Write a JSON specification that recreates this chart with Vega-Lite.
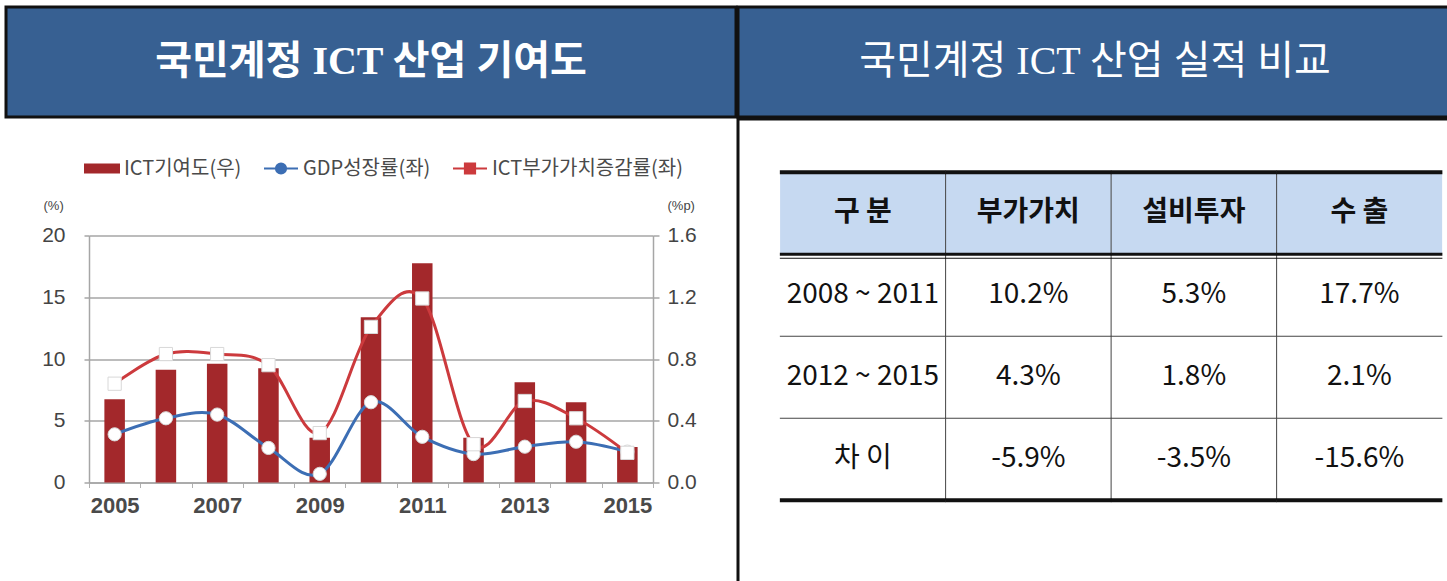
{
  "$schema": "https://vega.github.io/schema/vega-lite/v6.json",
  "background": "white",
  "padding": {"left": 4, "top": 5, "right": 0, "bottom": 0},
  "config": {"view": {"stroke": null}, "font": "Noto Sans CJK KR"},
  "spacing": -3,
  "resolve": {"scale": {"color": "independent", "shape": "independent"}, "legend": {"color": "independent", "shape": "independent"}},
  "hconcat": [
    {
      "resolve": {"scale": {"color": "independent", "shape": "independent"}, "legend": {"color": "independent", "shape": "independent"}},
      "bounds": "flush",
      "center": true,
      "spacing": 118.5,
      "vconcat": [
        {
          "width": 730,
          "height": 110,
          "view": {"fill": "#376092", "stroke": "#111111", "strokeWidth": 3},
          "data": {"values": [{"title": "국민계정 ICT 산업 기여도"}]},
          "mark": {"type": "text", "color": "white", "fontSize": 40, "fontWeight": "bold", "align": "center", "baseline": "middle", "font": "Liberation Serif, Noto Sans CJK KR"},
          "encoding": {"text": {"field": "title"}}
        },
        {
          "width": 564,
          "height": 247,
          "data": {
            "values": [
              {"year": 2005, "series": "ICT기여도(우)", "value": 0.54},
              {"year": 2006, "series": "ICT기여도(우)", "value": 0.73},
              {"year": 2007, "series": "ICT기여도(우)", "value": 0.77},
              {"year": 2008, "series": "ICT기여도(우)", "value": 0.74},
              {"year": 2009, "series": "ICT기여도(우)", "value": 0.29},
              {"year": 2010, "series": "ICT기여도(우)", "value": 1.07},
              {"year": 2011, "series": "ICT기여도(우)", "value": 1.42},
              {"year": 2012, "series": "ICT기여도(우)", "value": 0.29},
              {"year": 2013, "series": "ICT기여도(우)", "value": 0.65},
              {"year": 2014, "series": "ICT기여도(우)", "value": 0.52},
              {"year": 2015, "series": "ICT기여도(우)", "value": 0.23},
              {"year": 2005, "series": "GDP성장률(좌)", "value": 3.9},
              {"year": 2006, "series": "GDP성장률(좌)", "value": 5.2},
              {"year": 2007, "series": "GDP성장률(좌)", "value": 5.5},
              {"year": 2008, "series": "GDP성장률(좌)", "value": 2.8},
              {"year": 2009, "series": "GDP성장률(좌)", "value": 0.7},
              {"year": 2010, "series": "GDP성장률(좌)", "value": 6.5},
              {"year": 2011, "series": "GDP성장률(좌)", "value": 3.7},
              {"year": 2012, "series": "GDP성장률(좌)", "value": 2.3},
              {"year": 2013, "series": "GDP성장률(좌)", "value": 2.9},
              {"year": 2014, "series": "GDP성장률(좌)", "value": 3.3},
              {"year": 2015, "series": "GDP성장률(좌)", "value": 2.5},
              {"year": 2005, "series": "ICT부가가치증감률(좌)", "value": 8.0},
              {"year": 2006, "series": "ICT부가가치증감률(좌)", "value": 10.4},
              {"year": 2007, "series": "ICT부가가치증감률(좌)", "value": 10.4},
              {"year": 2008, "series": "ICT부가가치증감률(좌)", "value": 9.5},
              {"year": 2009, "series": "ICT부가가치증감률(좌)", "value": 4.0},
              {"year": 2010, "series": "ICT부가가치증감률(좌)", "value": 12.6},
              {"year": 2011, "series": "ICT부가가치증감률(좌)", "value": 14.9},
              {"year": 2012, "series": "ICT부가가치증감률(좌)", "value": 3.1},
              {"year": 2013, "series": "ICT부가가치증감률(좌)", "value": 6.6},
              {"year": 2014, "series": "ICT부가가치증감률(좌)", "value": 5.2},
              {"year": 2015, "series": "ICT부가가치증감률(좌)", "value": 2.4}
            ]
          },
          "encoding": {
            "x": {
              "field": "year",
              "type": "ordinal",
              "scale": {"paddingInner": 0, "paddingOuter": 0},
              "axis": {
                "title": null,
                "labelAngle": 0,
                "tickBand": "extent",
                "labelExpr": "datum.value % 2 === 1 ? datum.label : ''",
                "labelOverlap": false,
                "labelFontSize": 22,
                "labelFont": "Liberation Sans",
                "labelFontWeight": "bold",
                "labelColor": "#4a4a4a",
                "labelPadding": 8,
                "domainColor": "#a6a6a6",
                "domainWidth": 1.5,
                "tickColor": "#b0b0b0",
                "tickSize": 5,
                "grid": false
              }
            }
          },
          "layer": [
            {
              "transform": [{"filter": "datum.series === 'ICT기여도(우)'"}],
              "mark": {"type": "bar", "width": {"band": 0.4}},
              "encoding": {
                "y": {
                  "field": "value",
                  "type": "quantitative",
                  "scale": {"domain": [0, 1.6]},
                  "axis": {
                    "orient": "right",
                    "values": [0, 0.4, 0.8, 1.2, 1.6],
                    "format": ".1f",
                    "grid": false,
                    "domainColor": "#a6a6a6",
                    "domainWidth": 1.5,
                    "tickColor": "#a6a6a6",
                    "tickWidth": 1.5,
                    "tickSize": 6,
                    "labelFontSize": 21,
                    "labelFont": "Liberation Sans",
                    "labelColor": "#444444",
                    "labelPadding": 8,
                    "title": "(%p)",
                    "titleAngle": 0,
                    "titleFontSize": 13,
                    "titleFontWeight": "normal",
                    "titleFont": "Liberation Sans",
                    "titleColor": "#444444",
                    "titleAlign": "left",
                    "titleBaseline": "middle",
                    "titleX": 14,
                    "titleY": -30
                  }
                },
                "color": {
                  "field": "series",
                  "type": "nominal",
                  "scale": {
                    "domain": ["ICT기여도(우)", "GDP성장률(좌)", "ICT부가가치증감률(좌)"],
                    "range": ["#a3282b", "#3c6eb4", "#cc3a3d"]
                  },
                  "legend": {
                    "orient": "none",
                    "legendX": -5,
                    "legendY": -85,
                    "direction": "horizontal",
                    "title": null,
                    "labelFontSize": 20,
                    "labelLimit": 400,
                    "labelColor": "#4a4a4a",
                    "labelFont": "Noto Sans CJK KR",
                    "symbolSize": 1156,
                    "symbolStrokeWidth": 2,
                    "columnPadding": 18,
                    "labelOffset": 4,
                    "encode": {
                      "symbols": {
                        "update": {
                          "shape": {"signal": "datum.value === 'ICT기여도(우)' ? 'M-1,-0.24H1V0.24H-1Z' : datum.value === 'GDP성장률(좌)' ? 'M-1,0H-0.3M0.3,0H1M0.3,0A0.3,0.3 0 1 1 -0.3,0A0.3,0.3 0 1 1 0.3,0Z' : 'M-1,0H-0.3M0.3,0H1M-0.3,-0.3H0.3V0.3H-0.3Z'"},
                          "fill": {"signal": "datum.value === 'ICT기여도(우)' ? '#a3282b' : 'white'"},
                          "stroke": {"signal": "datum.value === 'ICT기여도(우)' ? '#a3282b' : datum.value === 'GDP성장률(좌)' ? '#3c6eb4' : '#cc3a3d'"},
                          "strokeWidth": {"value": 2},
                          "opacity": {"value": 1}
                        }
                      }
                    }
                  }
                }
              }
            },
            {
              "transform": [{"filter": "datum.series !== 'ICT기여도(우)'"}],
              "encoding": {
                "y": {
                  "field": "value",
                  "type": "quantitative",
                  "scale": {"domain": [0, 20]},
                  "axis": {
                    "orient": "left",
                    "values": [0, 5, 10, 15, 20],
                    "grid": true,
                    "gridColor": "#a6a6a6",
                    "gridWidth": 1.5,
                    "domainColor": "#a6a6a6",
                    "domainWidth": 1.5,
                    "tickColor": "#a6a6a6",
                    "tickWidth": 1.5,
                    "tickSize": 5,
                    "labelFontSize": 21,
                    "labelFont": "Liberation Sans",
                    "labelColor": "#444444",
                    "labelPadding": 19,
                    "title": "(%)",
                    "titleAngle": 0,
                    "titleFontSize": 13,
                    "titleFontWeight": "normal",
                    "titleFont": "Liberation Sans",
                    "titleColor": "#444444",
                    "titleAlign": "left",
                    "titleBaseline": "middle",
                    "titleX": -46,
                    "titleY": -30
                  }
                }
              },
              "layer": [
                {
                  "mark": {"type": "line", "interpolate": "cardinal", "strokeWidth": 3},
                  "encoding": {
                    "color": {
                      "field": "series",
                      "type": "nominal",
                      "scale": {
                        "domain": ["ICT기여도(우)", "GDP성장률(좌)", "ICT부가가치증감률(좌)"],
                        "range": ["#a3282b", "#3c6eb4", "#cc3a3d"]
                      }
                    }
                  }
                },
                {
                  "mark": {"type": "point", "filled": true, "fill": "white", "stroke": "#d8d8d8", "strokeWidth": 1, "size": 175, "opacity": 1},
                  "encoding": {
                    "shape": {
                      "field": "series",
                      "type": "nominal",
                      "scale": {"domain": ["GDP성장률(좌)", "ICT부가가치증감률(좌)"], "range": ["circle", "square"]},
                      "legend": null
                    }
                  }
                }
              ]
            }
          ],
          "resolve": {"scale": {"y": "independent"}}
        }
      ]
    },
    {
      "vconcat": [
        {
          "width": 714,
          "height": 110,
          "view": {"fill": "#376092", "stroke": "#111111", "strokeWidth": 3},
          "data": {"values": [{"title": "국민계정 ICT 산업 실적 비교"}]},
          "mark": {"type": "text", "color": "white", "fontSize": 40, "fontWeight": "normal", "align": "center", "baseline": "middle", "font": "Liberation Serif, Noto Sans CJK KR"},
          "encoding": {"text": {"field": "title"}}
        },
        {
          "width": 714,
          "height": 470,
          "view": {"fill": "white", "stroke": "#111111", "strokeWidth": 3},
          "data": {
            "values": [
              {"row": "header", "col": "구 분", "text": "구 분"},
              {"row": "header", "col": "부가가치", "text": "부가가치"},
              {"row": "header", "col": "설비투자", "text": "설비투자"},
              {"row": "header", "col": "수 출", "text": "수 출"},
              {"row": "2008 ~ 2011", "col": "구 분", "text": "2008 ~ 2011"},
              {"row": "2008 ~ 2011", "col": "부가가치", "text": "10.2%"},
              {"row": "2008 ~ 2011", "col": "설비투자", "text": "5.3%"},
              {"row": "2008 ~ 2011", "col": "수 출", "text": "17.7%"},
              {"row": "2012 ~ 2015", "col": "구 분", "text": "2012 ~ 2015"},
              {"row": "2012 ~ 2015", "col": "부가가치", "text": "4.3%"},
              {"row": "2012 ~ 2015", "col": "설비투자", "text": "1.8%"},
              {"row": "2012 ~ 2015", "col": "수 출", "text": "2.1%"},
              {"row": "차 이", "col": "구 분", "text": "차 이"},
              {"row": "차 이", "col": "부가가치", "text": "-5.9%"},
              {"row": "차 이", "col": "설비투자", "text": "-3.5%"},
              {"row": "차 이", "col": "수 출", "text": "-15.6%"}
            ]
          },
          "encoding": {
            "x": {
              "field": "col",
              "type": "nominal",
              "sort": null,
              "scale": {"domain": ["구 분", "부가가치", "설비투자", "수 출"], "paddingInner": 0, "paddingOuter": 0.157, "align": 0.81},
              "axis": null
            },
            "y": {
              "field": "row",
              "type": "nominal",
              "sort": null,
              "scale": {"domain": ["header", "2008 ~ 2011", "2012 ~ 2015", "차 이"], "paddingInner": 0, "paddingOuter": 0.866, "align": 0.375},
              "axis": null
            }
          },
          "layer": [
            {
              "transform": [{"filter": "datum.row === 'header'"}],
              "mark": {"type": "rect", "fill": "#c6d9f1"}
            },
            {
              "transform": [{"filter": "datum.col !== '구 분'"}],
              "mark": {"type": "tick", "orient": "vertical", "size": 82, "thickness": 1, "color": "#444444", "opacity": 1},
              "encoding": {"x": {"field": "col", "type": "nominal", "bandPosition": 0}}
            },
            {
              "transform": [{"filter": "datum.row === '2012 ~ 2015' || datum.row === '차 이'"}],
              "mark": {"type": "tick", "orient": "horizontal", "size": 166, "thickness": 1, "color": "#444444", "opacity": 1},
              "encoding": {"y": {"field": "row", "type": "nominal", "bandPosition": 0}}
            },
            {
              "transform": [{"filter": "datum.row === 'header'"}],
              "mark": {"type": "tick", "orient": "horizontal", "size": 166, "thickness": 4, "color": "#111111", "opacity": 1},
              "encoding": {"y": {"field": "row", "type": "nominal", "bandPosition": 0}}
            },
            {
              "transform": [{"filter": "datum.row === 'header'"}],
              "mark": {"type": "tick", "orient": "horizontal", "size": 166, "thickness": 3, "color": "#111111", "opacity": 1},
              "encoding": {"y": {"field": "row", "type": "nominal", "bandPosition": 1}}
            },
            {
              "transform": [{"filter": "datum.row === 'header'"}],
              "mark": {"type": "tick", "orient": "horizontal", "size": 166, "thickness": 1, "color": "#111111", "opacity": 1, "yOffset": 4},
              "encoding": {"y": {"field": "row", "type": "nominal", "bandPosition": 1}}
            },
            {
              "transform": [{"filter": "datum.row === '차 이'"}],
              "mark": {"type": "tick", "orient": "horizontal", "size": 166, "thickness": 4, "color": "#111111", "opacity": 1},
              "encoding": {"y": {"field": "row", "type": "nominal", "bandPosition": 1}}
            },
            {
              "transform": [{"filter": "datum.row === 'header'"}],
              "mark": {"type": "text", "fontSize": 28, "fontWeight": "bold", "color": "#111111", "baseline": "middle", "align": "center", "font": "Noto Sans CJK KR"},
              "encoding": {"text": {"field": "text"}}
            },
            {
              "transform": [{"filter": "datum.row !== 'header'"}],
              "mark": {"type": "text", "fontSize": 28, "fontWeight": "normal", "color": "#111111", "baseline": "middle", "align": "center", "font": "Noto Sans CJK KR"},
              "encoding": {"text": {"field": "text"}}
            }
          ]
        }
      ],
      "spacing": -3
    }
  ]
}
